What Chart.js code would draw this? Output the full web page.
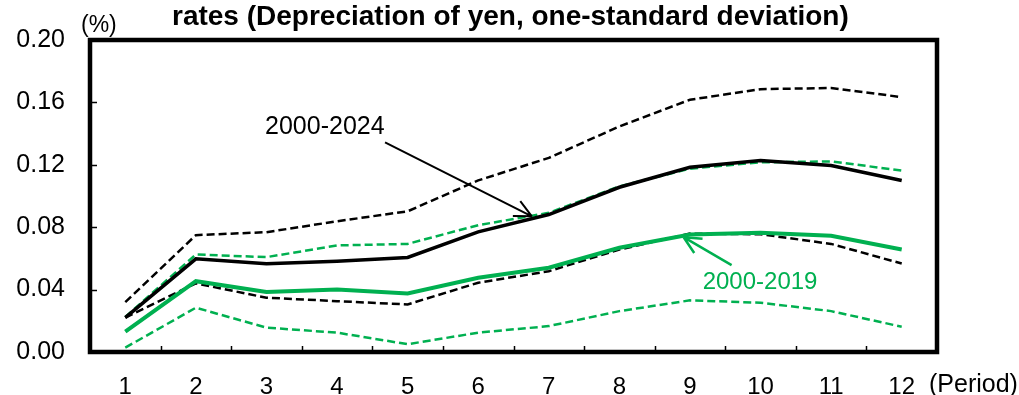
<!DOCTYPE html>
<html>
<head>
<meta charset="utf-8">
<script src="https://cdn.jsdelivr.net/npm/chart.js@4/dist/chart.umd.min.js"></script>
<style>
  html, body { margin: 0; padding: 0; background: #fff; }
  #wrap { width: 1019px; height: 395px; }
</style>
</head>
<body>
<div id="wrap"><canvas id="chart" width="1019" height="395"></canvas></div>
<script>
// impulse response of the exchange rate, with one-standard-error bands
const periods = ['1', '2', '3', '4', '5', '6', '7', '8', '9', '10', '11', '12'];

const full = [0.022, 0.0597, 0.0565, 0.0582, 0.0606, 0.077, 0.0881, 0.1056, 0.1184, 0.1227, 0.1195, 0.1099];
const fullUpper = [0.032, 0.0749, 0.0768, 0.0838, 0.0902, 0.110, 0.1244, 0.1446, 0.1617, 0.1685, 0.1692, 0.1634];
const fullLower = [0.022, 0.044, 0.0348, 0.0326, 0.0305, 0.0444, 0.0518, 0.0657, 0.0759, 0.0755, 0.0693, 0.0567];

const pre = [0.013, 0.0454, 0.0384, 0.0401, 0.0375, 0.0476, 0.054, 0.0668, 0.0753, 0.0764, 0.0745, 0.0657];
const preUpper = [0.0225, 0.0625, 0.0608, 0.0683, 0.0693, 0.0813, 0.0892, 0.1062, 0.1175, 0.1216, 0.1222, 0.1163];
const preLower = [0.0028, 0.0284, 0.0156, 0.0124, 0.005, 0.0124, 0.0166, 0.0262, 0.0331, 0.0316, 0.0262, 0.0162];

const yTicks = [0, 0.04, 0.08, 0.12, 0.16, 0.20];

const GREEN = '#00b050';
const FONT = '"Liberation Sans", Arial, sans-serif';

// labels with arrows, positioned in data units (x = category index)
const notes = [
  { text: '2000-2024', color: '#000', size: 25, at: [1.98, 0.140], from: [3.68, 0.1344], to: [5.76, 0.087] },
  { text: '2000-2019', color: GREEN, size: 24, at: [8.18, 0.0403], from: [8.59, 0.0557], to: [7.91, 0.0736] }
];

const frame = {
  id: 'frame',
  afterDatasetsDraw(chart) {
    const { ctx, chartArea: a, scales: { x, y } } = chart;
    ctx.save();

    // inward tick marks
    ctx.strokeStyle = '#000';
    ctx.lineWidth = 1.5;
    ctx.beginPath();
    yTicks.slice(1, -1).forEach(v => {
      const py = Math.round(y.getPixelForValue(v)) + 0.5;
      ctx.moveTo(a.left, py);
      ctx.lineTo(a.left + 7, py);
    });
    for (let i = 0; i < periods.length - 1; i++) {
      const px = Math.round((x.getPixelForValue(i) + x.getPixelForValue(i + 1)) / 2) + 0.5;
      ctx.moveTo(px, a.bottom);
      ctx.lineTo(px, a.bottom - 6);
    }
    ctx.stroke();

    // plot box
    ctx.lineWidth = 4.5;
    ctx.strokeRect(a.left, a.top, a.right - a.left, a.bottom - a.top);

    // annotations
    notes.forEach(n => {
      const sx = x.getPixelForValue(n.from[0]), sy = y.getPixelForValue(n.from[1]);
      const tx = x.getPixelForValue(n.to[0]), ty = y.getPixelForValue(n.to[1]);
      const ang = Math.atan2(ty - sy, tx - sx);
      ctx.strokeStyle = n.color;
      ctx.lineWidth = n.color === GREEN ? 2.5 : 2;
      ctx.beginPath();
      ctx.moveTo(sx, sy);
      ctx.lineTo(tx, ty);
      [0.45, -0.45].forEach(d => {
        ctx.moveTo(tx, ty);
        ctx.lineTo(tx - 19 * Math.cos(ang + d), ty - 19 * Math.sin(ang + d));
      });
      ctx.stroke();

      ctx.fillStyle = n.color;
      ctx.font = n.size + 'px ' + FONT;
      ctx.textAlign = 'left';
      ctx.textBaseline = 'alphabetic';
      ctx.fillText(n.text, x.getPixelForValue(n.at[0]), y.getPixelForValue(n.at[1]));
    });

    // title and units
    ctx.fillStyle = '#000';
    ctx.font = 'bold 28px ' + FONT;
    ctx.textAlign = 'left';
    ctx.fillText('rates (Depreciation of yen, one-standard deviation)', 172, 25);
    ctx.font = '23px ' + FONT;
    ctx.fillText('(%)', 81, 32);
    ctx.font = '25px ' + FONT;
    ctx.fillText('(Period)', 929, 392);
    ctx.restore();
  }
};

function series(data, color, width, dashed, order) {
  return {
    data,
    borderColor: color,
    borderWidth: width,
    borderDash: dashed ? [8, 4] : [],
    pointRadius: 0,
    tension: 0,
    fill: false,
    order
  };
}

new Chart(document.getElementById('chart'), {
  type: 'line',
  data: {
    labels: periods,
    datasets: [
      series(full, '#000', 3.5, false, 1),
      series(pre, GREEN, 4, false, 2),
      series(preUpper, GREEN, 2.5, true, 3),
      series(fullUpper, '#000', 2.5, true, 4),
      series(fullLower, '#000', 2.5, true, 5),
      series(preLower, GREEN, 2.5, true, 6)
    ]
  },
  options: {
    responsive: false,
    animation: false,
    layout: { padding: { top: 40, right: 82, left: 0, bottom: 0 } },
    plugins: { legend: { display: false }, tooltip: { enabled: false } },
    scales: {
      x: {
        offset: true,
        grid: { display: false },
        border: { display: false },
        ticks: { color: '#000', padding: 13, font: { family: FONT, size: 24 }, maxRotation: 0 },
        afterFit(s) { s.height = 43; }
      },
      y: {
        min: 0,
        max: 0.2,
        grid: { display: false },
        border: { display: false },
        afterBuildTicks(s) { s.ticks = yTicks.map(v => ({ value: v })); },
        ticks: {
          color: '#000',
          padding: 17,
          font: { family: FONT, size: 25 },
          callback: v => v.toFixed(2)
        },
        afterFit(s) { s.width = 90; }
      }
    }
  },
  plugins: [frame]
});
</script>
</body>
</html>
